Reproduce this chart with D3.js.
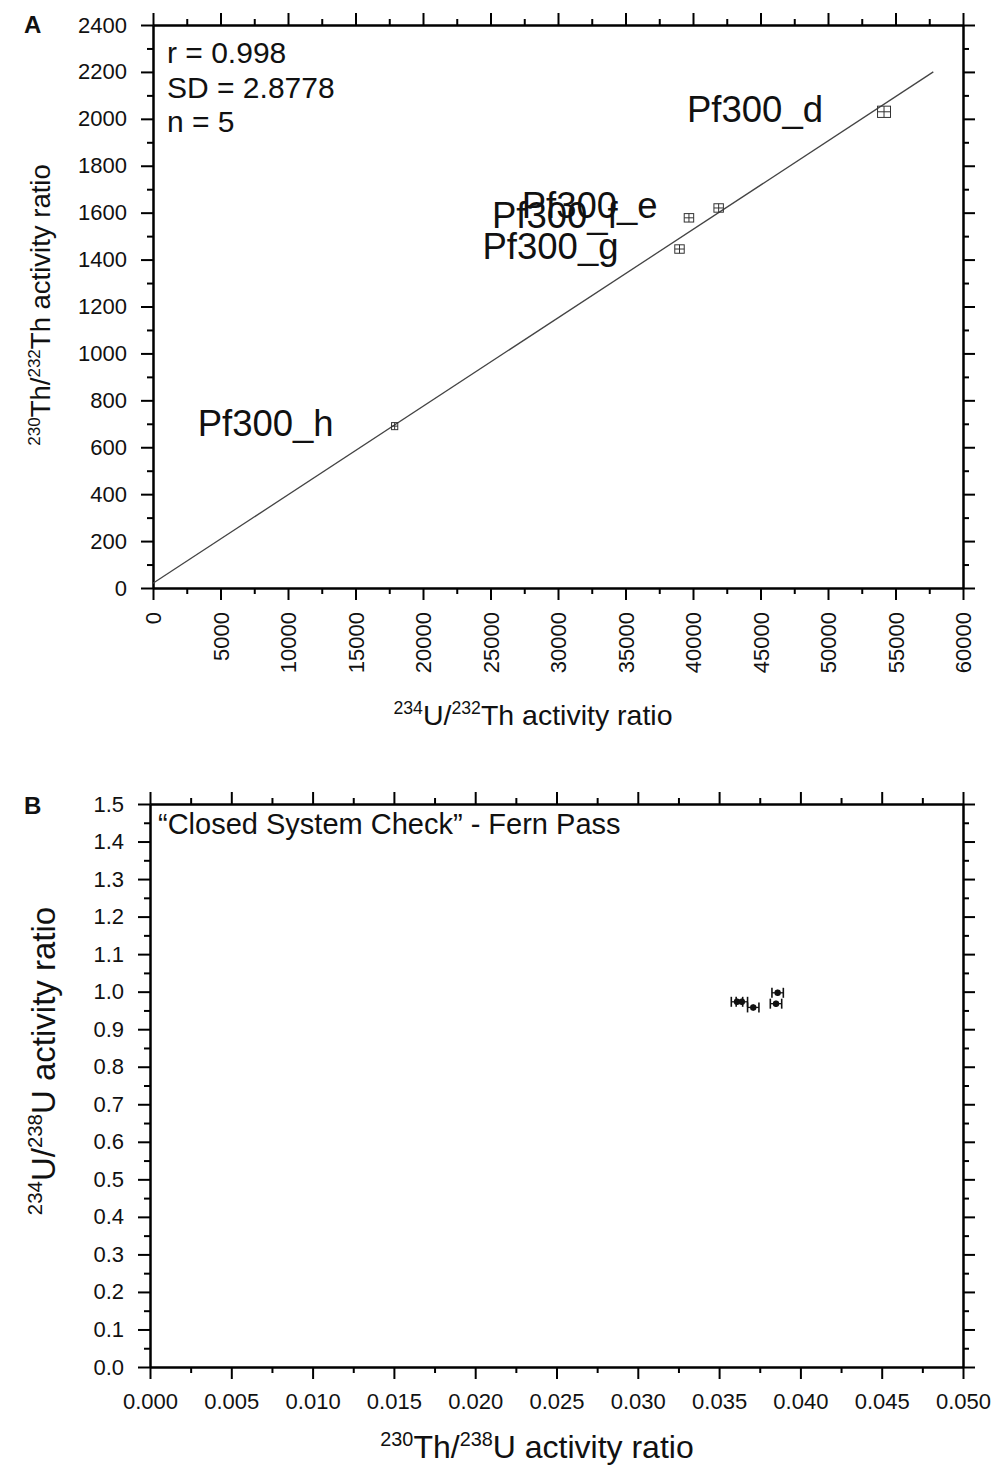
<!DOCTYPE html>
<html>
<head>
<meta charset="utf-8">
<script src="https://cdnjs.cloudflare.com/ajax/libs/d3/7.8.5/d3.min.js"></script>
<style>
body { margin: 0; background: #fff; }
svg text { font-family: "Liberation Sans", Arial, sans-serif; fill: #111; }
</style>
</head>
<body>
<div id="chart"></div>
<script>
// panel A data: 234U/232Th vs 230Th/232Th isochron
var samples = ["Pf300_d", "Pf300_e", "Pf300_f", "Pf300_g", "Pf300_h"];
var u234th232 = [54150, 41900, 39700, 39000, 17900];
var th230th232 = [2030, 1620, 1578, 1445, 690];
var errU234th232 = [480, 350, 350, 350, 230];
var errTh230th232 = [24, 18, 18, 18, 15];
var fitX = [0, 57800];
var fitY = [20, 2200];
var statsA = ["r = 0.998", "SD = 2.8778", "n = 5"];

// panel B data: closed system check
var th230u238 = [0.0361, 0.0364, 0.0371, 0.0385, 0.0386];
var u234u238 = [0.973, 0.973, 0.958, 0.968, 0.997];
var errTh230u238 = [0.00035, 0.00035, 0.00035, 0.00035, 0.00035];
var errU234u238 = [0.008, 0.008, 0.008, 0.008, 0.008];

var xTicksA = d3.range(0, 60001, 5000);
var yTicksA = d3.range(0, 2401, 200);
var xTicksB = d3.range(0, 0.0501, 0.005);
var yTicksB = d3.range(0, 1.501, 0.1);

var w = 1004, h = 1466;

var svg = d3.select("#chart")
            .append("svg")
            .attr("width", w)
            .attr("height", h);

function styleAxis(g) {
    g.selectAll("path, line").attr("stroke", "#000").attr("stroke-width", 2);
    g.selectAll("text").attr("fill", "#111");
}

// box with ticks outside on all four sides, like the Origin plots
function frame(x, y, xMajor, xMinor, yMajor, yMinor, xFmt, yFmt, fs) {
    var xr = x.range(), yr = y.range();
    var sides = [
        [d3.axisBottom(x), "translate(0," + yr[0] + ")", xMajor, xMinor, xFmt],
        [d3.axisTop(x), "translate(0," + yr[1] + ")", xMajor, xMinor, null],
        [d3.axisLeft(y), "translate(" + xr[0] + ",0)", yMajor, yMinor, yFmt],
        [d3.axisRight(y), "translate(" + xr[1] + ",0)", yMajor, yMinor, null]
    ];
    var out = {};
    sides.forEach(function(s, i) {
        svg.append("g")
           .attr("transform", s[1])
           .call(s[0].tickValues(s[3]).tickSize(6).tickSizeOuter(0).tickFormat(""))
           .call(styleAxis);
        var g = svg.append("g")
           .attr("transform", s[1])
           .call(s[0].tickValues(s[2]).tickSize(12).tickSizeOuter(0)
                     .tickPadding(14).tickFormat(s[4] ? s[4] : ""))
           .call(styleAxis);
        g.attr("font-size", fs);
        out[i] = g;
    });
    return out;
}

function richText(sel, parts, fs) {
    var up = false;
    parts.forEach(function(p) {
        var ts = sel.append("tspan").text(p[0]);
        if (p[1]) {
            ts.attr("font-size", fs * 0.62);
            if (!up) { ts.attr("dy", -fs * 0.38); up = true; }
        } else {
            ts.attr("font-size", fs);
            if (up) { ts.attr("dy", fs * 0.38); up = false; }
        }
    });
}

/* ---------- panel A ---------- */
var xA = d3.scaleLinear().domain([0, 60000]).range([153, 963]);
var yA = d3.scaleLinear().domain([0, 2400]).range([588, 25]);

var minorXA = d3.range(2500, 60000, 5000);
var minorYA = d3.range(100, 2400, 200);

var axA = frame(xA, yA, xTicksA, minorXA, yTicksA, minorYA, d3.format("d"), d3.format("d"), 22);

axA[0].selectAll("text")
      .attr("transform", "rotate(-90)")
      .attr("x", -24)
      .attr("y", 0)
      .attr("dy", "0.35em")
      .style("text-anchor", "end");

svg.append("line")
   .attr("x1", xA(fitX[0])).attr("y1", yA(fitY[0]))
   .attr("x2", xA(fitX[1])).attr("y2", yA(fitY[1]))
   .attr("stroke", "#444")
   .attr("stroke-width", 1.3);

var ptsA = svg.selectAll(".ptA")
              .data(samples)
              .enter()
              .append("g")
              .attr("class", "ptA");

ptsA.append("rect")
    .attr("x", function(d, i) { return xA(u234th232[i] - errU234th232[i]); })
    .attr("y", function(d, i) { return yA(th230th232[i] + errTh230th232[i]); })
    .attr("width", function(d, i) { return xA(u234th232[i] + errU234th232[i]) - xA(u234th232[i] - errU234th232[i]); })
    .attr("height", function(d, i) { return yA(th230th232[i] - errTh230th232[i]) - yA(th230th232[i] + errTh230th232[i]); })
    .attr("fill", "none")
    .attr("stroke", "#333")
    .attr("stroke-width", 1);

ptsA.append("line")
    .attr("x1", function(d, i) { return xA(u234th232[i] - errU234th232[i]); })
    .attr("x2", function(d, i) { return xA(u234th232[i] + errU234th232[i]); })
    .attr("y1", function(d, i) { return yA(th230th232[i]); })
    .attr("y2", function(d, i) { return yA(th230th232[i]); })
    .attr("stroke", "#333");

ptsA.append("line")
    .attr("x1", function(d, i) { return xA(u234th232[i]); })
    .attr("x2", function(d, i) { return xA(u234th232[i]); })
    .attr("y1", function(d, i) { return yA(th230th232[i] - errTh230th232[i]); })
    .attr("y2", function(d, i) { return yA(th230th232[i] + errTh230th232[i]); })
    .attr("stroke", "#333");

ptsA.append("text")
    .attr("x", function(d, i) { return xA(u234th232[i]) - 197; })
    .attr("y", function(d, i) { return yA(th230th232[i]) + 10; })
    .attr("font-size", 36.5)
    .text(function(d) { return d; });

svg.selectAll(".statA")
   .data(statsA)
   .enter()
   .append("text")
   .attr("x", 167)
   .attr("y", function(d, i) { return 63 + i * 34.5; })
   .attr("font-size", 30)
   .text(function(d) { return d; });

svg.append("text").attr("x", 24).attr("y", 33)
   .attr("font-size", 24).attr("font-weight", "bold").text("A");

var xtA = svg.append("text").attr("x", 533).attr("y", 725).attr("text-anchor", "middle");
richText(xtA, [["234", true], ["U/", false], ["232", true], ["Th activity ratio", false]], 28.5);

var ytA = svg.append("text").attr("transform", "translate(50,305) rotate(-90)").attr("text-anchor", "middle");
richText(ytA, [["230", true], ["Th/", false], ["232", true], ["Th activity ratio", false]], 27.5);

/* ---------- panel B ---------- */
var xB = d3.scaleLinear().domain([0, 0.05]).range([150, 963]);
var yB = d3.scaleLinear().domain([0, 1.5]).range([1367, 804]);

var minorXB = d3.range(0.0025, 0.05, 0.005);
var minorYB = d3.range(0.05, 1.5, 0.1);

var axB = frame(xB, yB, xTicksB, minorXB, yTicksB, minorYB, d3.format(".3f"), d3.format(".1f"), 22);

svg.append("text").attr("x", 158).attr("y", 834).attr("font-size", 29)
   .text("\u201CClosed System Check\u201D - Fern Pass");

var ptsB = svg.selectAll(".ptB")
              .data(th230u238)
              .enter()
              .append("g")
              .attr("class", "ptB");

ptsB.append("line")
    .attr("x1", function(d, i) { return xB(d - errTh230u238[i]); })
    .attr("x2", function(d, i) { return xB(d + errTh230u238[i]); })
    .attr("y1", function(d, i) { return yB(u234u238[i]); })
    .attr("y2", function(d, i) { return yB(u234u238[i]); })
    .attr("stroke", "#111").attr("stroke-width", 1.3);

ptsB.append("line")
    .attr("x1", function(d) { return xB(d); })
    .attr("x2", function(d) { return xB(d); })
    .attr("y1", function(d, i) { return yB(u234u238[i] - errU234u238[i]); })
    .attr("y2", function(d, i) { return yB(u234u238[i] + errU234u238[i]); })
    .attr("stroke", "#111").attr("stroke-width", 1.3);

[-1, 1].forEach(function(sgn) {
    ptsB.append("line")
        .attr("x1", function(d, i) { return xB(d + sgn * errTh230u238[i]); })
        .attr("x2", function(d, i) { return xB(d + sgn * errTh230u238[i]); })
        .attr("y1", function(d, i) { return yB(u234u238[i]) - 5; })
        .attr("y2", function(d, i) { return yB(u234u238[i]) + 5; })
        .attr("stroke", "#111").attr("stroke-width", 1.6);
});

ptsB.append("circle")
    .attr("cx", function(d) { return xB(d); })
    .attr("cy", function(d, i) { return yB(u234u238[i]); })
    .attr("r", 3.2)
    .attr("fill", "#111");

svg.append("text").attr("x", 24).attr("y", 814)
   .attr("font-size", 24).attr("font-weight", "bold").text("B");

var xtB = svg.append("text").attr("x", 537).attr("y", 1458).attr("text-anchor", "middle");
richText(xtB, [["230", true], ["Th/", false], ["238", true], ["U activity ratio", false]], 32);

var ytB = svg.append("text").attr("transform", "translate(55,1061) rotate(-90)").attr("text-anchor", "middle");
richText(ytB, [["234", true], ["U/", false], ["238", true], ["U activity ratio", false]], 33);
</script>
</body>
</html>
